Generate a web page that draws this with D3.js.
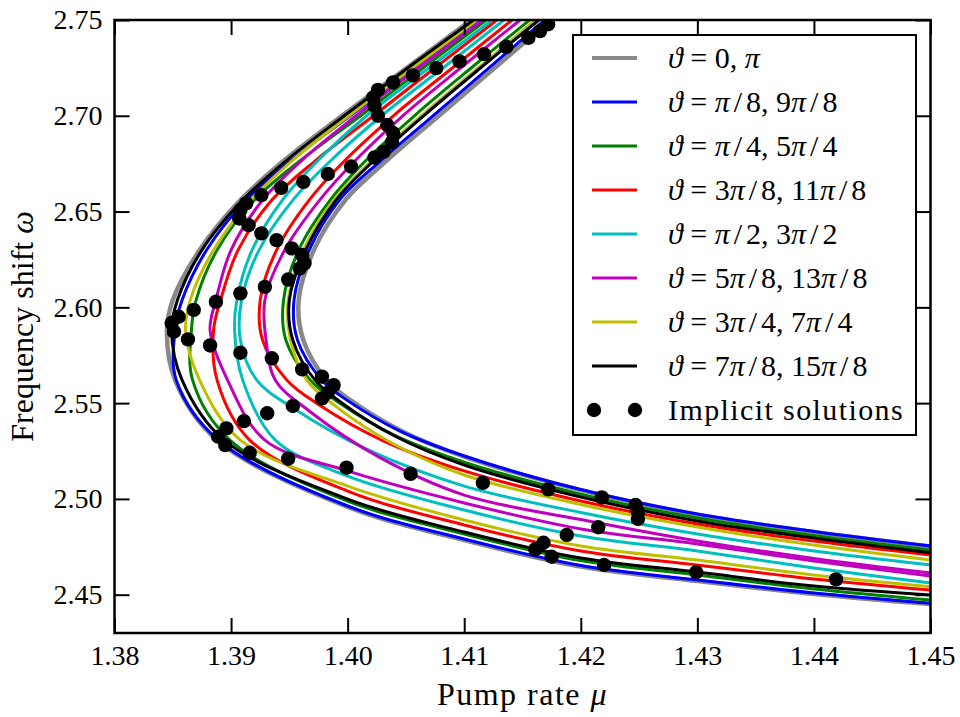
<!DOCTYPE html>
<html>
<head>
<meta charset="utf-8">
<script src="https://cdn.jsdelivr.net/npm/d3@7"></script>
<style>
  body { margin: 0; background: #fff; }
  text { font-family: "Liberation Serif", "DejaVu Serif", serif; fill: #000; }
</style>
</head>
<body>
<svg id="chart" width="960" height="717"></svg>
<script>
// tick values
const xTicks = [1.38, 1.39, 1.40, 1.41, 1.42, 1.43, 1.44, 1.45];
const yTicks = [2.45, 2.50, 2.55, 2.60, 2.65, 2.70, 2.75];

// legend labels, one per theta pair
const thetaLabels = ["ϑ = 0, π", "ϑ = π/8, 9π/8", "ϑ = π/4, 5π/4", "ϑ = 3π/8, 11π/8",
  "ϑ = π/2, 3π/2", "ϑ = 5π/8, 13π/8", "ϑ = 3π/4, 7π/4", "ϑ = 7π/8, 15π/8"];

// each theta gives two curves: outer (left vertex) and inner (right vertex), points are [mu, omega]
const grayOuter = [[1.4106,2.75],[1.4054,2.7265],[1.3996,2.7004],[1.3946,2.6769],[1.3908,2.6560],[1.3873,2.6299],[1.3850,2.6038],[1.3845,2.5881],[1.3852,2.5620],[1.3888,2.5307],[1.40,2.4958],[1.41,2.4785],[1.42,2.4647],[1.43,2.4571],[1.44,2.4504],[1.45,2.4451]];
const grayInner = [[1.4174,2.75],[1.4129,2.7265],[1.4079,2.7004],[1.4034,2.6769],[1.3998,2.6560],[1.3971,2.6299],[1.3958,2.6038],[1.3962,2.5829],[1.3982,2.5620],[1.4003,2.5513],[1.4047,2.5352],[1.41,2.5221],[1.42,2.5046],[1.43,2.4918],[1.44,2.4827],[1.45,2.4751]];
const blueOuter = [[1.4112,2.75],[1.4060,2.7265],[1.4003,2.7004],[1.3952,2.6769],[1.3913,2.6560],[1.3879,2.6299],[1.3858,2.6038],[1.3852,2.5881],[1.3853,2.5620],[1.3889,2.5307],[1.40,2.4963],[1.41,2.4791],[1.42,2.4652],[1.43,2.4577],[1.44,2.4509],[1.45,2.4455]];
const blueInner = [[1.4169,2.75],[1.4124,2.7265],[1.4074,2.7004],[1.4029,2.6769],[1.3993,2.6560],[1.3967,2.6299],[1.3954,2.6038],[1.3957,2.5829],[1.3978,2.5620],[1.4000,2.5513],[1.4045,2.5354],[1.41,2.5224],[1.42,2.5049],[1.43,2.4921],[1.44,2.4830],[1.45,2.4754]];
const greenOuter = [[1.4119,2.75],[1.4068,2.7265],[1.4012,2.7004],[1.3960,2.6769],[1.3920,2.6560],[1.3888,2.6299],[1.3870,2.6038],[1.3866,2.5881],[1.3867,2.5620],[1.3899,2.5307],[1.40,2.4989],[1.41,2.4817],[1.42,2.4678],[1.43,2.4603],[1.44,2.4530],[1.45,2.4472]];
const greenInner = [[1.4156,2.75],[1.4109,2.7265],[1.4058,2.7004],[1.4016,2.6769],[1.3985,2.6560],[1.3958,2.6299],[1.3945,2.6038],[1.3947,2.5829],[1.3968,2.5620],[1.3992,2.5505],[1.4040,2.5333],[1.41,2.5192],[1.42,2.5025],[1.43,2.4900],[1.44,2.4809],[1.45,2.4733]];
const redOuter = [[1.4128,2.75],[1.4078,2.7265],[1.4023,2.7004],[1.3973,2.6769],[1.3935,2.6560],[1.3906,2.6299],[1.3891,2.6038],[1.3885,2.5881],[1.3888,2.5620],[1.3916,2.5307],[1.40,2.5041],[1.41,2.4864],[1.42,2.4728],[1.43,2.4655],[1.44,2.4582],[1.45,2.4524]];
const redInner = [[1.4141,2.75],[1.4093,2.7265],[1.4040,2.7004],[1.3998,2.6769],[1.3967,2.6560],[1.3939,2.6299],[1.3925,2.6038],[1.3927,2.5829],[1.3948,2.5620],[1.3975,2.5493],[1.4031,2.5302],[1.41,2.5146],[1.42,2.4989],[1.43,2.4869],[1.44,2.4780],[1.45,2.4707]];
const cyanOuter = [[1.4124,2.75],[1.4073,2.7265],[1.4017,2.7004],[1.3975,2.6769],[1.3944,2.6560],[1.3918,2.6299],[1.3905,2.6038],[1.3903,2.5881],[1.3910,2.5620],[1.3938,2.5307],[1.40,2.5119],[1.41,2.4942],[1.42,2.4806],[1.43,2.4728],[1.44,2.4639],[1.45,2.4561]];
const cyanInner = [[1.4134,2.75],[1.4085,2.7265],[1.4030,2.7004],[1.3986,2.6769],[1.3953,2.6560],[1.3924,2.6299],[1.3909,2.6038],[1.3908,2.5829],[1.3922,2.5620],[1.3954,2.5471],[1.4020,2.5249],[1.41,2.5067],[1.42,2.4929],[1.43,2.4817],[1.44,2.4728],[1.45,2.4655]];
const magentaOuter = [[1.4116,2.75],[1.4064,2.7265],[1.4008,2.7004],[1.3961,2.6769],[1.3927,2.6560],[1.3900,2.6299],[1.3887,2.6038],[1.3882,2.5881],[1.3897,2.5620],[1.3929,2.5307],[1.40,2.5146],[1.41,2.4979],[1.42,2.4843],[1.43,2.4765],[1.44,2.4676],[1.45,2.4597]];
const magentaInner = [[1.4148,2.75],[1.4100,2.7265],[1.4048,2.7004],[1.4007,2.6769],[1.3976,2.6560],[1.3946,2.6299],[1.3929,2.6038],[1.3930,2.5829],[1.3938,2.5620],[1.3967,2.5459],[1.4027,2.5218],[1.41,2.5020],[1.42,2.4892],[1.43,2.4780],[1.44,2.4689],[1.45,2.4613]];
const yellowOuter = [[1.4111,2.75],[1.4059,2.7265],[1.4002,2.7004],[1.3953,2.6769],[1.3917,2.6560],[1.3885,2.6299],[1.3865,2.6038],[1.3861,2.5881],[1.3873,2.5620],[1.3908,2.5307],[1.40,2.5067],[1.41,2.4890],[1.42,2.4754],[1.43,2.4681],[1.44,2.4603],[1.45,2.4542]];
const yellowInner = [[1.4161,2.75],[1.4115,2.7265],[1.4064,2.7004],[1.4021,2.6769],[1.3988,2.6560],[1.3962,2.6299],[1.3949,2.6038],[1.3951,2.5829],[1.3965,2.5620],[1.3989,2.5487],[1.4039,2.5288],[1.41,2.5125],[1.42,2.4971],[1.43,2.4853],[1.44,2.4759],[1.45,2.4681]];
const blackOuter = [[1.4108,2.75],[1.4055,2.7265],[1.3998,2.7004],[1.3948,2.6769],[1.3910,2.6560],[1.3875,2.6299],[1.3854,2.6038],[1.3849,2.5881],[1.3858,2.5620],[1.3894,2.5307],[1.40,2.4999],[1.41,2.4827],[1.42,2.4691],[1.43,2.4618],[1.44,2.4545],[1.45,2.4498]];
const blackInner = [[1.4164,2.75],[1.4117,2.7265],[1.4066,2.7004],[1.4023,2.6769],[1.3990,2.6560],[1.3964,2.6299],[1.3950,2.6038],[1.3953,2.5829],[1.3972,2.5620],[1.3995,2.5501],[1.4042,2.5323],[1.41,2.5177],[1.42,2.5010],[1.43,2.4885],[1.44,2.4796],[1.45,2.4719]];

// implicit solutions (black dots)
const implicitMu = [1.4172,1.4165,1.4155,1.4136,1.4117,1.4096,1.4076,1.4056,1.4039,1.4026,1.4022,1.4023,1.4026,1.4034,1.4039,1.4038,1.4031,1.4023,1.4003,1.3983,1.3962,1.3943,1.3926,1.3913,1.3908,1.3907,1.3915,1.3926,1.3939,1.3952,1.3961,1.3963,1.3959,1.3949,1.3929,1.3908,1.3887,1.3868,1.3855,1.3849,1.3851,1.3863,1.3882,1.3908,1.3935,1.3961,1.3978,1.3988,1.3983,1.3978,1.3953,1.3931,1.3911,1.3896,1.3889,1.3895,1.3916,1.3949,1.3999,1.4054,1.4116,1.4172,1.4218,1.4247,1.4249,1.4249,1.4215,1.4188,1.4168,1.4161,1.4175,1.4220,1.4299,1.4419];
const implicitOmega = [2.7478,2.7442,2.7407,2.7360,2.7322,2.7284,2.7249,2.7211,2.7174,2.7135,2.7096,2.7052,2.7000,2.6952,2.6910,2.6861,2.6813,2.6782,2.6735,2.6696,2.6655,2.6624,2.6586,2.6543,2.6508,2.6464,2.6429,2.6386,2.6351,2.6308,2.6273,2.6230,2.6203,2.6145,2.6107,2.6073,2.6029,2.5987,2.5951,2.5918,2.5873,2.5833,2.5801,2.5763,2.5734,2.5676,2.5638,2.5594,2.5554,2.5525,2.5485,2.5447,2.5406,2.5368,2.5325,2.5281,2.5241,2.5210,2.5163,2.5131,2.5084,2.5050,2.5008,2.4968,2.4933,2.4895,2.4852,2.4812,2.4771,2.4737,2.4698,2.4655,2.4617,2.4580];

const svg = d3.select("#chart");
const plotLeft = 114.5, plotRight = 930.5, plotTop = 20, plotBottom = 633;

const x = d3.scaleLinear().domain([1.38, 1.45]).range([plotLeft, plotRight]);
const y = d3.scaleLinear().domain([2.43, 2.75]).range([plotBottom, plotTop]);

// draw order follows the legend
const series = [
  { color: "#888888", width: 4.5, curves: [grayOuter, grayInner] },
  { color: "#0000ff", width: 3, curves: [blueOuter, blueInner] },
  { color: "#008000", width: 3, curves: [greenOuter, greenInner] },
  { color: "#ff0000", width: 3, curves: [redOuter, redInner] },
  { color: "#00bfbf", width: 3, curves: [cyanOuter, cyanInner] },
  { color: "#bf00bf", width: 3, curves: [magentaOuter, magentaInner] },
  { color: "#bfbf00", width: 3, curves: [yellowOuter, yellowInner] },
  { color: "#000000", width: 3, curves: [blackOuter, blackInner] }
];

svg.append("defs").append("clipPath").attr("id", "plot-clip")
  .append("rect")
  .attr("x", plotLeft).attr("y", plotTop)
  .attr("width", plotRight - plotLeft).attr("height", plotBottom - plotTop);

const plot = svg.append("g").attr("clip-path", "url(#plot-clip)");

const line = d3.line()
  .x((d) => x(d[0]))
  .y((d) => y(d[1]))
  .curve(d3.curveCatmullRom.alpha(0.5));

series.forEach((s) => {
  plot.selectAll(null)
    .data(s.curves)
    .enter()
    .append("path")
    .attr("d", line)
    .attr("fill", "none")
    .attr("stroke", s.color)
    .attr("stroke-width", s.width)
    .attr("stroke-linejoin", "round");
});

plot.selectAll("circle.sol")
  .data(d3.zip(implicitMu, implicitOmega))
  .enter()
  .append("circle")
  .attr("class", "sol")
  .attr("cx", (d) => x(d[0]))
  .attr("cy", (d) => y(d[1]))
  .attr("r", 7.2)
  .attr("fill", "#000");

// axes: ticks point inward on all four sides
const tickLen = 15;
function styleAxis(g) {
  g.select(".domain").remove();
  g.selectAll(".tick line").attr("stroke", "#000").attr("stroke-width", 2);
  g.selectAll(".tick text")
    .style("font-family", "'Liberation Serif', serif")
    .style("font-size", "28px")
    .attr("fill", "#000");
}

svg.append("g")
  .attr("transform", `translate(0,${plotBottom})`)
  .call(d3.axisBottom(x).tickValues(xTicks).tickFormat(d3.format(".2f"))
    .tickSizeInner(-tickLen).tickSizeOuter(0).tickPadding(12))
  .call(styleAxis);

svg.append("g")
  .attr("transform", `translate(0,${plotTop})`)
  .call(d3.axisTop(x).tickValues(xTicks).tickFormat("")
    .tickSizeInner(-tickLen).tickSizeOuter(0))
  .call(styleAxis);

svg.append("g")
  .attr("transform", `translate(${plotLeft},0)`)
  .call(d3.axisLeft(y).tickValues(yTicks).tickFormat(d3.format(".2f"))
    .tickSizeInner(-tickLen).tickSizeOuter(0).tickPadding(12))
  .call(styleAxis);

svg.append("g")
  .attr("transform", `translate(${plotRight},0)`)
  .call(d3.axisRight(y).tickValues(yTicks).tickFormat("")
    .tickSizeInner(-tickLen).tickSizeOuter(0))
  .call(styleAxis);

// frame
svg.append("rect")
  .attr("x", plotLeft).attr("y", plotTop)
  .attr("width", plotRight - plotLeft).attr("height", plotBottom - plotTop)
  .attr("fill", "none")
  .attr("stroke", "#000")
  .attr("stroke-width", 2.5);

// math-like text: greek letters italic, a little air around "/"
function mathText(sel, str) {
  let pad = 0;
  str.split(/([ϑπμω\/])/).filter((p) => p.length).forEach((p) => {
    const t = sel.append("tspan").text(p);
    if ("ϑπμω".includes(p)) t.attr("font-style", "italic");
    if (pad) t.attr("dx", pad);
    pad = p === "/" ? 4 : 0;
    if (p === "/") t.attr("dx", 4);
  });
}

svg.append("text")
  .attr("x", (plotLeft + plotRight) / 2)
  .attr("y", 705)
  .attr("text-anchor", "middle")
  .attr("font-size", 32)
  .attr("letter-spacing", 1.5)
  .call(mathText, "Pump rate μ");

svg.append("text")
  .attr("transform", `translate(33,${(plotTop + plotBottom) / 2}) rotate(-90)`)
  .attr("text-anchor", "middle")
  .attr("font-size", 32)
  .call(mathText, "Frequency shift ω");

// legend
const legend = svg.append("g");
legend.append("rect")
  .attr("x", 573).attr("y", 35)
  .attr("width", 343).attr("height", 400)
  .attr("fill", "#fff")
  .attr("stroke", "#000")
  .attr("stroke-width", 2);

const rowY = (i) => 58 + i * 44;

series.forEach((s, i) => {
  legend.append("line")
    .attr("x1", 592).attr("x2", 637)
    .attr("y1", rowY(i)).attr("y2", rowY(i))
    .attr("stroke", s.color)
    .attr("stroke-width", i === 0 ? 4 : 3);
  legend.append("text")
    .attr("x", 668).attr("y", rowY(i) + 10)
    .attr("font-size", 30)
    .call(mathText, thetaLabels[i]);
});

const dotRow = rowY(series.length);
legend.selectAll("circle")
  .data([594, 635])
  .enter()
  .append("circle")
  .attr("cx", (d) => d)
  .attr("cy", dotRow)
  .attr("r", 7.2)
  .attr("fill", "#000");
legend.append("text")
  .attr("x", 668).attr("y", dotRow + 10)
  .attr("font-size", 30)
  .attr("letter-spacing", 1.4)
  .text("Implicit solutions");
</script>
</body>
</html>
